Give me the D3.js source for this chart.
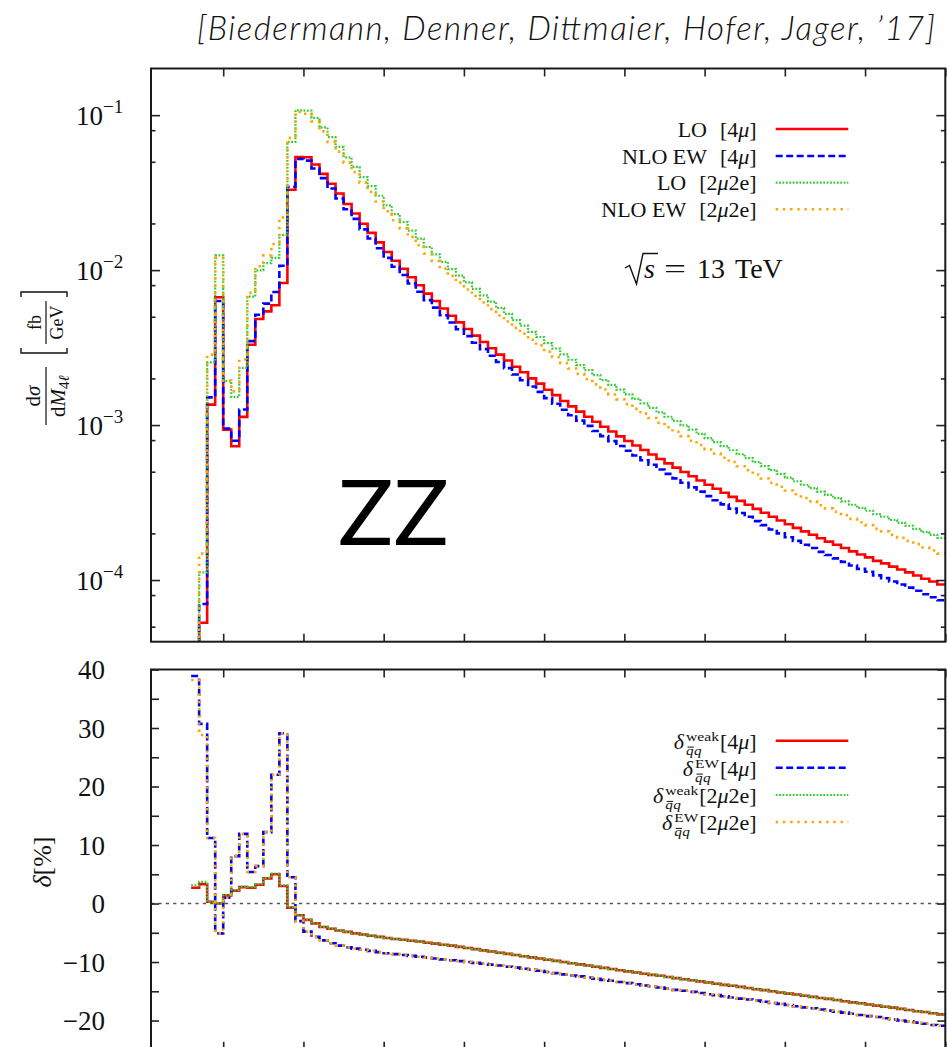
<!DOCTYPE html>
<html>
<head>
<meta charset="utf-8">
<script src="https://cdn.jsdelivr.net/npm/d3@7"></script>
<style>
  body { margin: 0; background: #fff; }
  svg { display: block; }
</style>
</head>
<body>
<svg id="chart" width="947" height="1047"></svg>
<script>
// Four-lepton invariant mass M_4l, 10 GeV bins (low edges plus final upper edge)
const binEdges = [60,70,80,90,100,110,120,130,140,150,160,170,180,190,200,210,220,230,240,250,
  260,270,280,290,300,310,320,330,340,350,360,370,380,390,400,410,420,430,440,450,
  460,470,480,490,500,510,520,530,540,550,560,570,580,590,600,610,620,630,640,650,
  660,670,680,690,700,710,720,730,740,750,760,770,780,790,800,810,820,830,840,850,
  860,870,880,890,900,910,920,930,940,950,960,970,980,990,1000];

// dsigma/dM_4l [fb/GeV]
const lo4mu = [2.0e-5,5.3e-5,1.355e-3,6.68e-3,9.35e-4,7.3e-4,1.13e-3,3.3e-3,4.84e-3,5.42e-3,
  5.93e-3,8.26e-3,3.3e-2,5.37e-2,5.35e-2,4.8e-2,4.18e-2,3.61e-2,3.12e-2,2.67e-2,
  2.32e-2,1.99e-2,1.74e-2,1.51e-2,1.31e-2,1.15e-2,1.02e-2,9.0e-3,7.98e-3,7.05e-3,
  6.32e-3,5.65e-3,5.08e-3,4.6e-3,4.17e-3,3.78e-3,3.44e-3,3.13e-3,2.85e-3,2.61e-3,
  2.38e-3,2.19e-3,2.0e-3,1.85e-3,1.69e-3,1.56e-3,1.43e-3,1.32e-3,1.221e-3,1.131e-3,
  1.05e-3,9.75e-4,9.08e-4,8.46e-4,7.9e-4,7.38e-4,6.9e-4,6.46e-4,6.04e-4,5.66e-4,
  5.31e-4,4.98e-4,4.67e-4,4.39e-4,4.12e-4,3.88e-4,3.66e-4,3.44e-4,3.24e-4,3.06e-4,
  2.88e-4,2.72e-4,2.56e-4,2.42e-4,2.29e-4,2.17e-4,2.06e-4,1.96e-4,1.86e-4,1.77e-4,
  1.69e-4,1.61e-4,1.53e-4,1.46e-4,1.40e-4,1.33e-4,1.28e-4,1.22e-4,1.17e-4,1.12e-4,
  1.07e-4,1.02e-4,9.78e-5,9.35e-5];

const nloEW4mu = [2.78e-5,7.0e-5,1.51e-3,6.32e-3,9.5e-4,7.92e-4,1.26e-3,3.48e-3,5.15e-3,6.08e-3,
  7.23e-3,1.066e-2,3.45e-2,5.21e-2,5.09e-2,4.53e-2,3.92e-2,3.36e-2,2.90e-2,2.47e-2,
  2.14e-2,1.833e-2,1.599e-2,1.385e-2,1.199e-2,1.051e-2,9.30e-3,8.19e-3,7.25e-3,6.40e-3,
  5.73e-3,5.11e-3,4.59e-3,4.15e-3,3.75e-3,3.40e-3,3.09e-3,2.80e-3,2.55e-3,2.33e-3,
  2.12e-3,1.946e-3,1.774e-3,1.637e-3,1.492e-3,1.374e-3,1.257e-3,1.158e-3,1.069e-3,9.88e-4,
  9.15e-4,8.48e-4,7.88e-4,7.33e-4,6.83e-4,6.36e-4,5.93e-4,5.55e-4,5.17e-4,4.84e-4,
  4.53e-4,4.24e-4,3.96e-4,3.72e-4,3.48e-4,3.27e-4,3.08e-4,2.89e-4,2.71e-4,2.56e-4,
  2.40e-4,2.26e-4,2.12e-4,2.00e-4,1.89e-4,1.79e-4,1.69e-4,1.61e-4,1.52e-4,1.45e-4,
  1.38e-4,1.31e-4,1.24e-4,1.18e-4,1.13e-4,1.072e-4,1.029e-4,9.78e-5,9.36e-5,8.94e-5,
  8.52e-5,8.10e-5,7.75e-5,7.40e-5];

const lo2mu2e = [2.5e-5,1.12e-4,2.54e-3,1.245e-2,1.92e-3,1.52e-3,2.34e-3,6.74e-3,9.97e-3,1.11e-2,
  1.2e-2,1.69e-2,6.72e-2,1.075e-1,1.07e-1,9.6e-2,8.34e-2,7.22e-2,6.24e-2,5.34e-2,
  4.64e-2,3.98e-2,3.48e-2,3.02e-2,2.62e-2,2.30e-2,2.04e-2,1.80e-2,1.596e-2,1.41e-2,
  1.264e-2,1.13e-2,1.016e-2,9.2e-3,8.34e-3,7.56e-3,6.88e-3,6.26e-3,5.70e-3,5.22e-3,
  4.76e-3,4.38e-3,4.0e-3,3.70e-3,3.38e-3,3.12e-3,2.86e-3,2.64e-3,2.44e-3,2.26e-3,
  2.10e-3,1.95e-3,1.816e-3,1.692e-3,1.58e-3,1.476e-3,1.38e-3,1.292e-3,1.208e-3,1.132e-3,
  1.062e-3,9.96e-4,9.34e-4,8.78e-4,8.24e-4,7.76e-4,7.32e-4,6.88e-4,6.48e-4,6.12e-4,
  5.76e-4,5.44e-4,5.12e-4,4.84e-4,4.58e-4,4.34e-4,4.12e-4,3.92e-4,3.72e-4,3.54e-4,
  3.38e-4,3.22e-4,3.06e-4,2.92e-4,2.80e-4,2.66e-4,2.56e-4,2.44e-4,2.34e-4,2.24e-4,
  2.14e-4,2.04e-4,1.956e-4,1.87e-4];

const nloEW2mu2e = [3.45e-5,1.48e-4,2.85e-3,1.2e-2,1.94e-3,1.65e-3,2.65e-3,7.13e-3,1.06e-2,1.245e-2,
  1.475e-2,2.19e-2,7.13e-2,1.05e-1,1.022e-1,9.12e-2,7.86e-2,6.72e-2,5.80e-2,4.94e-2,
  4.28e-2,3.67e-2,3.20e-2,2.77e-2,2.40e-2,2.10e-2,1.86e-2,1.638e-2,1.45e-2,1.28e-2,
  1.146e-2,1.022e-2,9.18e-3,8.30e-3,7.50e-3,6.80e-3,6.18e-3,5.60e-3,5.10e-3,4.66e-3,
  4.24e-3,3.89e-3,3.55e-3,3.27e-3,2.98e-3,2.75e-3,2.51e-3,2.32e-3,2.14e-3,1.976e-3,
  1.83e-3,1.696e-3,1.576e-3,1.466e-3,1.366e-3,1.272e-3,1.186e-3,1.11e-3,1.034e-3,9.68e-4,
  9.06e-4,8.48e-4,7.92e-4,7.44e-4,6.96e-4,6.54e-4,6.16e-4,5.78e-4,5.42e-4,5.12e-4,
  4.80e-4,4.52e-4,4.24e-4,4.00e-4,3.78e-4,3.58e-4,3.38e-4,3.22e-4,3.04e-4,2.90e-4,
  2.76e-4,2.62e-4,2.48e-4,2.36e-4,2.26e-4,2.14e-4,2.06e-4,1.956e-4,1.872e-4,1.788e-4,
  1.704e-4,1.62e-4,1.55e-4,1.48e-4];

// Relative corrections delta [%]
const deltaWeak4mu = [2.7,3.3,0.3,0.0,1.4,2.2,2.8,2.7,3.2,4.3,
  5.0,3.0,-0.7,-2.0,-2.8,-3.4,-4.0,-4.3,-4.6,-4.85,
  -5.1,-5.3,-5.5,-5.7,-5.9,-6.05,-6.2,-6.35,-6.5,-6.7,
  -6.85,-7.05,-7.2,-7.4,-7.6,-7.8,-8.0,-8.2,-8.4,-8.6,
  -8.8,-9.0,-9.2,-9.4,-9.6,-9.8,-10.0,-10.2,-10.4,-10.6,
  -10.8,-11.0,-11.2,-11.4,-11.6,-11.8,-12.0,-12.2,-12.35,-12.55,
  -12.75,-12.95,-13.1,-13.3,-13.5,-13.7,-13.9,-14.05,-14.25,-14.45,
  -14.65,-14.8,-15.0,-15.2,-15.4,-15.55,-15.75,-15.95,-16.15,-16.3,
  -16.5,-16.7,-16.9,-17.05,-17.25,-17.45,-17.65,-17.8,-18.0,-18.2,
  -18.4,-18.55,-18.75,-18.95];

const deltaEW4mu = [38.9,30.7,11.2,-5.1,1.0,8.1,11.9,5.4,6.4,12.2,
  22.0,29.1,4.5,-3.0,-4.8,-5.7,-6.3,-6.8,-7.2,-7.5,
  -7.7,-7.9,-8.1,-8.3,-8.5,-8.65,-8.8,-8.95,-9.1,-9.25,
  -9.4,-9.55,-9.7,-9.85,-10.0,-10.15,-10.3,-10.45,-10.6,-10.8,
  -10.95,-11.15,-11.3,-11.5,-11.7,-11.9,-12.1,-12.3,-12.45,-12.65,
  -12.85,-13.05,-13.2,-13.4,-13.6,-13.8,-14.0,-14.15,-14.35,-14.55,
  -14.75,-14.9,-15.1,-15.3,-15.5,-15.65,-15.85,-16.05,-16.25,-16.4,
  -16.6,-16.8,-17.0,-17.15,-17.35,-17.55,-17.75,-17.9,-18.1,-18.3,
  -18.5,-18.65,-18.85,-19.05,-19.25,-19.4,-19.6,-19.8,-20.0,-20.15,
  -20.35,-20.55,-20.75,-20.9];

const deltaWeak2mu2e = [3.1,3.7,0.3,0.0,1.5,2.3,2.9,2.8,3.3,4.4,
  5.1,3.1,-0.6,-2.0,-2.8,-3.4,-4.0,-4.3,-4.6,-4.85,
  -5.1,-5.3,-5.5,-5.7,-5.9,-6.05,-6.2,-6.35,-6.5,-6.7,
  -6.85,-7.05,-7.2,-7.4,-7.6,-7.8,-8.0,-8.2,-8.4,-8.6,
  -8.8,-9.0,-9.2,-9.4,-9.6,-9.8,-10.0,-10.2,-10.4,-10.6,
  -10.8,-11.0,-11.2,-11.4,-11.6,-11.8,-12.0,-12.2,-12.35,-12.55,
  -12.75,-12.95,-13.1,-13.3,-13.5,-13.7,-13.9,-14.05,-14.25,-14.45,
  -14.65,-14.8,-15.0,-15.2,-15.4,-15.55,-15.75,-15.95,-16.15,-16.3,
  -16.5,-16.7,-16.9,-17.05,-17.25,-17.45,-17.65,-17.8,-18.0,-18.2,
  -18.4,-18.55,-18.75,-18.95];

const deltaEW2mu2e = [38.2,28.8,11.2,-5.1,1.0,8.1,11.9,5.4,6.4,12.2,
  22.0,29.1,4.5,-3.0,-4.8,-5.7,-6.3,-6.8,-7.2,-7.5,
  -7.7,-7.9,-8.1,-8.3,-8.5,-8.65,-8.8,-8.95,-9.1,-9.25,
  -9.4,-9.55,-9.7,-9.85,-10.0,-10.15,-10.3,-10.45,-10.6,-10.8,
  -10.95,-11.15,-11.3,-11.5,-11.7,-11.9,-12.1,-12.3,-12.45,-12.65,
  -12.85,-13.05,-13.2,-13.4,-13.6,-13.8,-14.0,-14.15,-14.35,-14.55,
  -14.75,-14.9,-15.1,-15.3,-15.5,-15.65,-15.85,-16.05,-16.25,-16.4,
  -16.6,-16.8,-17.0,-17.15,-17.35,-17.55,-17.75,-17.9,-18.1,-18.3,
  -18.5,-18.65,-18.85,-19.05,-19.25,-19.4,-19.6,-19.8,-20.0,-20.15,
  -20.35,-20.55,-20.75,-20.9];

// Axis ticks
const massTicks = [100,200,300,400,500,600,700,800,900,1000];
const logMajorTicks = [1e-1,1e-2,1e-3,1e-4];
const logMajorExponents = ["\u22121","\u22122","\u22123","\u22124"];
const logMinorTicks = [8e-2,5e-2,2e-2,8e-3,5e-3,2e-3,8e-4,5e-4,2e-4,8e-5,5e-5];
const deltaMajorTicks = [40,30,20,10,0,-10,-20];
const deltaLabels = ["40","30","20","10","0","\u221210","\u221220"];
const deltaMinorTicks = [35,25,15,5,-5,-15];

const legendTop = ["LO", "NLO EW", "LO", "NLO EW"];
const legendChannel = ["4\u03bc", "4\u03bc", "2\u03bc2e", "2\u03bc2e"];
const legendDeltaSup = ["weak", "EW", "weak", "EW"];

// ---------- layout ----------
const SERIF = '"Liberation Serif","DejaVu Serif",serif';
const frameL = 151, frameR = 945.3;
const topT = 68.5, topB = 641.7, botT = 669.5, botB = 1049.8;

const svg = d3.select("#chart");
const x = d3.scaleLinear().domain([10, 1000]).range([frameL, frameR]);
const yTop = d3.scaleLog().domain([4e-5, 0.2]).range([topB, topT]);
const yBot = d3.scaleLinear().domain([-25, 40]).range([botB, botT]);

const series = [
  { color: "#ff0000", width: 2.6, dash: null },
  { color: "#0000ff", width: 2.6, dash: "7,3.5" },
  { color: "#33cc33", width: 2.2, dash: "1.8,1.6" },
  { color: "#ffa500", width: 2.6, dash: "2.4,4.8" }
];

const defs = svg.append("defs");
defs.append("clipPath").attr("id", "clipTop").append("rect")
  .attr("x", frameL).attr("y", topT).attr("width", frameR - frameL).attr("height", topB - topT);
defs.append("clipPath").attr("id", "clipBot").append("rect")
  .attr("x", frameL).attr("y", botT).attr("width", frameR - frameL).attr("height", botB - botT);

function stepPoints(vals) {
  const pts = vals.map((v, i) => [binEdges[i], v]);
  pts.push([binEdges[vals.length], vals[vals.length - 1]]);
  return pts;
}
const lineTop = d3.line().x(d => x(d[0])).y(d => yTop(d[1])).curve(d3.curveStepAfter);
const lineBot = d3.line().x(d => x(d[0])).y(d => yBot(d[1])).curve(d3.curveStepAfter);

function drawSeries(g, gen, vals, s) {
  g.append("path").attr("d", gen(stepPoints(vals)))
    .attr("fill", "none").attr("stroke", s.color).attr("stroke-width", s.width)
    .attr("stroke-dasharray", s.dash).attr("stroke-linejoin", "miter");
}

// ---------- upper panel: cross sections ----------
const gTop = svg.append("g").attr("clip-path", "url(#clipTop)");
[lo4mu, nloEW4mu, lo2mu2e, nloEW2mu2e].forEach((vals, i) => drawSeries(gTop, lineTop, vals, series[i]));

// ---------- lower panel: relative corrections ----------
svg.append("line").attr("x1", frameL).attr("x2", frameR).attr("y1", yBot(0)).attr("y2", yBot(0))
  .attr("stroke", "#555").attr("stroke-width", 1.6).attr("stroke-dasharray", "3.2,4.2");
const gBot = svg.append("g").attr("clip-path", "url(#clipBot)");
[deltaWeak4mu, deltaEW4mu, deltaWeak2mu2e, deltaEW2mu2e].forEach((vals, i) => drawSeries(gBot, lineBot, vals, series[i]));

// ---------- axes (inward ticks on all four sides) ----------
function styleAxis(g) {
  g.select(".domain").remove();
  g.selectAll(".tick line").attr("stroke", "#222").attr("stroke-width", 1.6);
  g.selectAll(".tick text").remove();
}
function massAxes(yEdgeTop, yEdgeBottom) {
  svg.append("g").attr("transform", `translate(0,${yEdgeTop})`)
    .call(d3.axisBottom(x).tickValues(massTicks).tickSize(8)).call(styleAxis);
  svg.append("g").attr("transform", `translate(0,${yEdgeBottom})`)
    .call(d3.axisTop(x).tickValues(massTicks).tickSize(8)).call(styleAxis);
}
massAxes(topT, topB);
massAxes(botT, botB);

function yAxes(scale, major, minor, majorLen, minorLen) {
  [[d3.axisRight, frameL], [d3.axisLeft, frameR]].forEach(([ax, xp]) => {
    svg.append("g").attr("transform", `translate(${xp},0)`)
      .call(ax(scale).tickValues(major).tickSize(majorLen)).call(styleAxis);
    svg.append("g").attr("transform", `translate(${xp},0)`)
      .call(ax(scale).tickValues(minor).tickSize(minorLen)).call(styleAxis);
  });
}
yAxes(yTop, logMajorTicks, logMinorTicks, 9, 4.5);
yAxes(yBot, deltaMajorTicks, deltaMinorTicks, 8, 8);

// frames
[[topT, topB], [botT, botB]].forEach(([t, b]) => {
  svg.append("rect").attr("x", frameL).attr("y", t).attr("width", frameR - frameL).attr("height", b - t)
    .attr("fill", "none").attr("stroke", "#1a1a1a").attr("stroke-width", 2);
});

// ---------- tick labels ----------
logMajorTicks.forEach((v, i) => {
  const t = svg.append("text").attr("x", 76).attr("y", yTop(v) + 9.5)
    .attr("font-family", SERIF).attr("font-size", 27).attr("fill", "#111");
  t.append("tspan").text("10");
  t.append("tspan").attr("dy", -12).attr("font-size", 19).text(logMajorExponents[i]);
});
deltaMajorTicks.forEach((v, i) => {
  svg.append("text").attr("x", 105).attr("y", yBot(v) + 9.5).attr("text-anchor", "end")
    .attr("font-family", SERIF).attr("font-size", 27).attr("fill", "#111").text(deltaLabels[i]);
});

// ---------- text helpers ----------
function txt(g, str, xp, yp, size, italic, anchor) {
  const t = g.append("text").attr("x", xp).attr("y", yp).attr("font-family", SERIF)
    .attr("font-size", size).attr("fill", "#111").attr("font-style", italic ? "italic" : "normal")
    .attr("text-anchor", anchor || "start").text(str);
  return t.node().getComputedTextLength();
}
function measure(str, size, italic) {
  const t = svg.append("text").attr("font-family", SERIF).attr("font-size", size)
    .attr("font-style", italic ? "italic" : "normal").text(str);
  const w = t.node().getComputedTextLength();
  t.remove();
  return w;
}
// one <text> made of absolutely placed runs
function runText(g, runs, dx) {
  const t = g.append("text").attr("font-family", SERIF).attr("fill", "#111");
  runs.forEach(r => {
    const s = t.append("tspan").attr("x", r.x + dx).attr("y", r.y).attr("font-size", r.size)
      .attr("font-style", r.italic ? "italic" : "normal").text(r.t);
    if (r.len) s.attr("textLength", r.len).attr("lengthAdjust", "spacingAndGlyphs");
  });
  return t;
}

// ---------- y-axis titles ----------
const yl = svg.append("g").attr("transform", "translate(46,357) rotate(-90)");
{
  // d sigma / d M_4l
  const num = [{ t: "d", size: 21 }, { t: "\u03c3", size: 21, italic: true }];
  let w = 0; num.forEach(r => { r.x = w; r.y = -6; w += measure(r.t, r.size, r.italic); });
  runText(yl, num, -39 - w / 2);
  const den = [{ t: "d", size: 21, y: 19 }, { t: "M", size: 21, italic: true, y: 19 },
    { t: "4", size: 15, y: 23 }, { t: "\u2113", size: 15, italic: true, y: 23 }];
  let wd = 0; den.forEach(r => { r.x = wd; wd += measure(r.t, r.size, r.italic); });
  runText(yl, den, -39 - wd / 2);
  yl.append("line").attr("x1", -68).attr("x2", -10).attr("y1", 0).attr("y2", 0)
    .attr("stroke", "#111").attr("stroke-width", 1.2);
  // [ fb / GeV ]
  yl.append("path").attr("d", "M9,-25 L4,-25 L4,21 L9,21").attr("fill", "none").attr("stroke", "#111").attr("stroke-width", 1.4);
  yl.append("path").attr("d", "M60,-25 L65,-25 L65,21 L60,21").attr("fill", "none").attr("stroke", "#111").attr("stroke-width", 1.4);
  txt(yl, "fb", 34.5, -5, 18, false, "middle");
  txt(yl, "GeV", 34.5, 16.5, 18, false, "middle");
  yl.append("line").attr("x1", 13).attr("x2", 56).attr("y1", 0).attr("y2", 0)
    .attr("stroke", "#111").attr("stroke-width", 1.2);
}
{
  const w = measure("\u03b4", 26, true) + measure("[%]", 26, false);
  const yl2 = svg.append("g").attr("transform", `translate(42,${862 + w / 2}) rotate(-90)`);
  runText(yl2, [{ t: "\u03b4", x: 0, y: 9, size: 26, italic: true },
    { t: "[%]", x: measure("\u03b4", 26, true), y: 9, size: 26 }], 0);
}

// ---------- legends ----------
const keyX1 = 775.7, keyX2 = 848.3, textRight = 756.7;
const LS = 22, SS = 12;
// widened script runs (superscript / subscript) to the Computer Modern proportions
const scriptWidth = { "weak": 33, "EW": 24, "q": 7.6 };
function channelRuns(ch) {
  return ch === "4\u03bc"
    ? [{ t: "[4" }, { t: "\u03bc", italic: true }, { t: "]" }]
    : [{ t: "[2" }, { t: "\u03bc", italic: true }, { t: "2e]" }];
}
function placeRuns(items, baseline) {
  const runs = [], bars = [];
  let cx = 0;
  items.forEach(p => {
    if (p.gap) { cx += p.gap; return; }
    if (p.sup !== undefined) {
      const x0 = cx + 2;
      const ws = scriptWidth[p.sup];
      runs.push({ t: p.sup, x: x0, y: baseline - 7.8, size: SS, len: ws });
      let sx = x0;
      p.sub.forEach(s => {
        const w = scriptWidth[s.t];
        runs.push({ t: s.t, x: sx, y: baseline + 5.9, size: SS, italic: s.italic, len: w });
        if (s.bar) bars.push([sx + 1.5, sx + w + 0.3, baseline - 1.6]);
        sx += w + 0.4;
      });
      cx = Math.max(x0 + ws, sx) + 1;
      return;
    }
    runs.push({ t: p.t, x: cx, y: baseline, size: LS, italic: p.italic });
    cx += measure(p.t, LS, p.italic);
  });
  const dx = textRight - cx;
  const g = svg.append("g");
  runText(g, runs, dx);
  bars.forEach(b => g.append("line").attr("x1", b[0] + dx).attr("x2", b[1] + dx)
    .attr("y1", b[2]).attr("y2", b[2]).attr("stroke", "#111").attr("stroke-width", 1));
}
const topRows = [129, 156, 182.7, 209.3];
topRows.forEach((ry, i) => {
  placeRuns([{ t: legendTop[i] }, { gap: 13 }].concat(channelRuns(legendChannel[i])), ry + 7.5);
  svg.append("line").attr("x1", keyX1).attr("x2", keyX2).attr("y1", ry).attr("y2", ry)
    .attr("stroke", series[i].color).attr("stroke-width", series[i].width).attr("stroke-dasharray", series[i].dash);
});
const botRows = [740.7, 767.7, 795, 822];
botRows.forEach((ry, i) => {
  placeRuns([{ t: "\u03b4", italic: true },
    { sup: legendDeltaSup[i], sub: [{ t: "q", italic: true, bar: true }, { t: "q", italic: true }] }]
    .concat(channelRuns(legendChannel[i])), ry + 8);
  svg.append("line").attr("x1", keyX1).attr("x2", keyX2).attr("y1", ry).attr("y2", ry)
    .attr("stroke", series[i].color).attr("stroke-width", series[i].width).attr("stroke-dasharray", series[i].dash);
});

// sqrt(s) = 13 TeV
svg.append("path").attr("d", "M625,268 L629.5,265.5 L636.5,284 L643,253.5 L658,253.5")
  .attr("fill", "none").attr("stroke", "#111").attr("stroke-width", 1.4);
runText(svg, [{ t: "s", x: 644, y: 278, size: 28, italic: true },
  { t: "=", x: 664, y: 278, size: 28, len: 22 },
  { t: "13", x: 697, y: 278, size: 28 },
  { t: "TeV", x: 735, y: 278, size: 28 }], 0);

// process label and citation
svg.append("text").attr("x", 338).attr("y", 545).attr("font-family", "Lato, 'Open Sans', sans-serif")
  .attr("font-size", 92).attr("fill", "#000").text("ZZ");
svg.append("text").attr("x", 197).attr("y", 40).attr("font-family", "Lato, 'Open Sans', sans-serif")
  .attr("font-style", "italic").attr("font-weight", 300).attr("font-size", 33).attr("fill", "#111")
  .attr("textLength", 738).text("[Biedermann, Denner, Dittmaier, Hofer, Jager, \u201917]");
</script>
</body>
</html>
